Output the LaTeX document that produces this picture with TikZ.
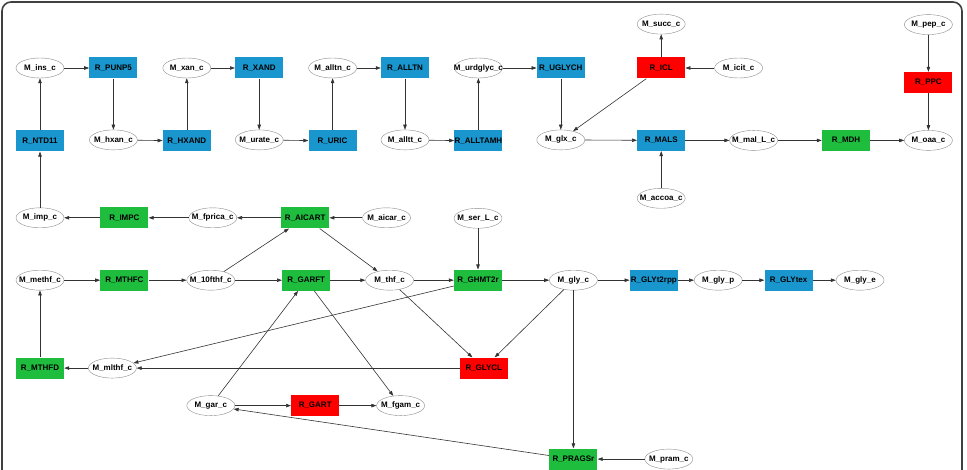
\documentclass[tikz,border=0pt]{standalone}
\usepackage{fontspec}
\setmainfont{Liberation Sans}
\usepackage{xcolor}
\usepackage{tikz}
\usetikzlibrary{shapes.geometric, arrows.meta, positioning}

\definecolor{rblue}{HTML}{1A96CE}
\definecolor{rgreen}{HTML}{1FBD3E}
\definecolor{rred}{HTML}{FF0000}

\begin{document}
\begin{tikzpicture}[
    x=1pt, y=1pt,
    node distance=25pt,
    met/.style={ellipse, draw=black!45, fill=white, minimum width=48pt, minimum height=20pt, inner xsep=-8pt, inner ysep=0pt, font=\bfseries\fontsize{8}{9}\selectfont},
    rxn/.style={rectangle, fill=rblue, minimum width=48pt, minimum height=21pt, inner sep=0pt, font=\bfseries\fontsize{8}{9}\selectfont},
    arrow/.style={draw=black!80, line width=0.6pt, -{Triangle[length=5pt,width=3.5pt]}}
]
\useasboundingbox (0,0) rectangle (967,-470);
\draw[black!75, line width=1.6pt, rounded corners=9pt] (2,-2) rectangle (962,-490);

\node[met] (mins) at (40,-68) {M\_ins\_c};
\node[rxn, right=25pt of mins] (rpunp5) {R\_PUNP5};
\node[met, right=25pt of rpunp5] (mxan) {M\_xan\_c};
\node[rxn, right=24pt of mxan] (rxand) {R\_XAND};
\node[met, right=25pt of rxand] (malltn) {M\_alltn\_c};
\node[rxn, right=24pt of malltn] (ralltn) {R\_ALLTN};
\node[met, right=25pt of ralltn] (murdglyc) {M\_urdglyc\_c};
\node[rxn, right=34pt of murdglyc] (ruglych) {R\_UGLYCH};
\node[rxn, fill=rred, right=52pt of ruglych] (ricl) {R\_ICL};
\node[met, right=29pt of ricl] (micit) {M\_icit\_c};
\node[met, above=23pt of ricl] (msucc) {M\_succ\_c};

\node[rxn, below=52pt of mins] (rntd11) {R\_NTD11};
\node[met, below=51pt of rpunp5] (mhxan) {M\_hxan\_c};
\node[rxn, below=52pt of mxan] (rhxand) {R\_HXAND};
\node[met, below=51pt of rxand] (murate) {M\_urate\_c};
\node[rxn, below=52pt of malltn] (ruric) {R\_URIC};
\node[met, below=51pt of ralltn] (malltt) {M\_alltt\_c};
\node[rxn, below=52pt of murdglyc] (ralltamh) {R\_ALLTAMH};
\node[met, below=51pt of ruglych] (mglx) {M\_glx\_c};
\node[rxn, below=51pt of ricl] (rmals) {R\_MALS};
\node[met, right=44pt of rmals] (mmalL) {M\_mal\_L\_c};
\node[rxn, fill=rgreen, right=44pt of mmalL] (rmdh) {R\_MDH};
\node[met, right=34pt of rmdh] (moaa) {M\_oaa\_c};
\node[rxn, fill=rred, above=37pt of moaa] (rppc) {R\_PPC};
\node[met, above=37pt of rppc] (mpep) {M\_pep\_c};
\node[met, below=37pt of rmals] (maccoa) {M\_accoa\_c};

\node[met, below=56pt of rntd11] (mimp) {M\_imp\_c};
\node[rxn, fill=rgreen, right=36pt of mimp] (rimpc) {R\_IMPC};
\node[met, right=40pt of rimpc] (mfprica) {M\_fprica\_c};
\node[rxn, fill=rgreen, right=44pt of mfprica] (raicart) {R\_AICART};
\node[met, right=33pt of raicart] (maicar) {M\_aicar\_c};

\node[met, below=42pt of mimp] (mmethf) {M\_methf\_c};
\node[rxn, fill=rgreen, right=36pt of mmethf] (rmthfc) {R\_MTHFC};
\node[met, right=38pt of rmthfc] (mfthf) {M\_10fthf\_c};
\node[rxn, fill=rgreen, right=47pt of mfthf] (rgarft) {R\_GARFT};
\node[met, right=35pt of rgarft] (mthf) {M\_thf\_c};
\node[rxn, fill=rgreen, right=40pt of mthf] (rghmt) {R\_GHMT2r};
\node[met, above=41pt of rghmt] (mserL) {M\_ser\_L\_c};
\node[met, right=47pt of rghmt] (mglyc) {M\_gly\_c};
\node[rxn, right=32pt of mglyc] (rglyt) {R\_GLYt2rpp};
\node[met, right=16pt of rglyt] (mglyp) {M\_gly\_p};
\node[rxn, right=22pt of mglyp] (rglytex) {R\_GLYtex};
\node[met, right=23pt of rglytex] (mglye) {M\_gly\_e};

\node[rxn, fill=rgreen, below=67pt of mmethf] (rmthfd) {R\_MTHFD};
\node[met, right=24pt of rmthfd] (mmlthf) {M\_mlthf\_c};
\node[rxn, fill=rred, right=323pt of mmlthf] (rglycl) {R\_GLYCL};
\node[met, below=105pt of mfthf] (mgar) {M\_gar\_c};
\node[rxn, fill=rred, right=56pt of mgar] (rgart) {R\_GART};
\node[met, right=37pt of rgart] (mfgam) {M\_fgam\_c};
\node[rxn, fill=rgreen, below=158pt of mglyc] (rpragsr) {R\_PRAGSr};
\node[met, right=47pt of rpragsr] (mpram) {M\_pram\_c};

\draw[arrow] (mins) -- (rpunp5);
\draw[arrow] (rpunp5) -- (mhxan);
\draw[arrow] (mhxan) -- (rhxand);
\draw[arrow] (rhxand) -- (mxan);
\draw[arrow] (mxan) -- (rxand);
\draw[arrow] (rxand) -- (murate);
\draw[arrow] (murate) -- (ruric);
\draw[arrow] (ruric) -- (malltn);
\draw[arrow] (malltn) -- (ralltn);
\draw[arrow] (ralltn) -- (malltt);
\draw[arrow] (malltt) -- (ralltamh);
\draw[arrow] (ralltamh) -- (murdglyc);
\draw[arrow] (murdglyc) -- (ruglych);
\draw[arrow] (ruglych) -- (mglx);
\draw[arrow] (ricl) -- (mglx);
\draw[arrow] (ricl) -- (msucc);
\draw[arrow] (micit) -- (ricl);
\draw[arrow] (mglx) -- (rmals);
\draw[arrow] (maccoa) -- (rmals);
\draw[arrow] (rmals) -- (mmalL);
\draw[arrow] (mmalL) -- (rmdh);
\draw[arrow] (rmdh) -- (moaa);
\draw[arrow] (mpep) -- (rppc);
\draw[arrow] (rppc) -- (moaa);
\draw[arrow] (rntd11) -- (mins);
\draw[arrow] (mimp) -- (rntd11);
\draw[arrow] (rimpc) -- (mimp);
\draw[arrow] (mfprica) -- (rimpc);
\draw[arrow] (raicart) -- (mfprica);
\draw[arrow] (maicar) -- (raicart);
\draw[arrow] (mfthf) -- (raicart);
\draw[arrow] (raicart) -- (mthf);
\draw[arrow] (mmethf) -- (rmthfc);
\draw[arrow] (rmthfc) -- (mfthf);
\draw[arrow] (mfthf) -- (rgarft);
\draw[arrow] (rgarft) -- (mthf);
\draw[arrow] (mthf) -- (rghmt);
\draw[arrow] (mserL) -- (rghmt);
\draw[arrow] (rghmt) -- (mglyc);
\draw[arrow] (mglyc) -- (rglyt);
\draw[arrow] (rglyt) -- (mglyp);
\draw[arrow] (mglyp) -- (rglytex);
\draw[arrow] (rglytex) -- (mglye);
\draw[arrow] (rmthfd) -- (mmethf);
\draw[arrow] (mmlthf) -- (rmthfd);
\draw[arrow] (rglycl) -- (mmlthf);
\draw[arrow] (rghmt) -- (mmlthf);
\draw[arrow] (mthf) -- (rglycl);
\draw[arrow] (mglyc) -- (rglycl);
\draw[arrow] (mglyc) -- (rpragsr);
\draw[arrow] (mpram) -- (rpragsr);
\draw[arrow] (rpragsr) -- (mgar);
\draw[arrow] (mgar) -- (rgarft);
\draw[arrow] (mgar) -- (rgart);
\draw[arrow] (rgart) -- (mfgam);
\draw[arrow] (rgarft) -- (mfgam);

\end{tikzpicture}
\end{document}
